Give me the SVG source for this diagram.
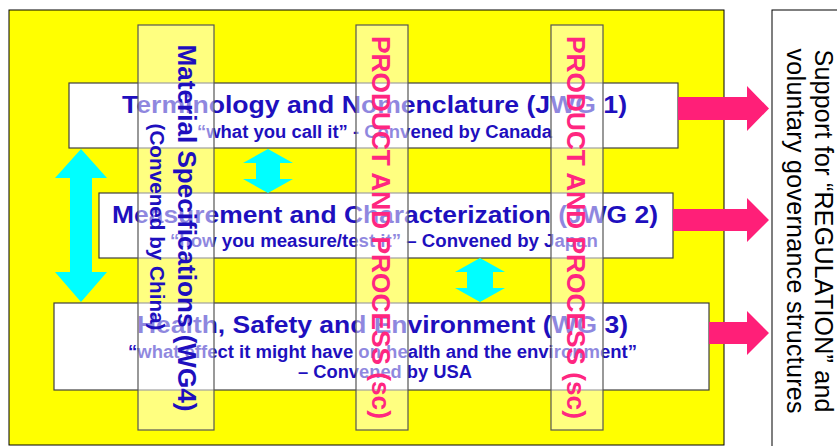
<svg xmlns="http://www.w3.org/2000/svg" width="837" height="446" viewBox="0 0 837 446">
<style>
.bg{fill:#ffff00;stroke:#000;stroke-width:1}
.box{fill:#fff;stroke:#404040;stroke-width:1.2}
.col{fill:#fff;fill-opacity:0.5;stroke:#555;stroke-width:1.2}
.t{font-family:"Liberation Sans",Arial,sans-serif;font-weight:bold;fill:#1e0fbe;text-anchor:middle}
.tt{font-size:24px}
.ts{font-size:18px}
.pk{font-family:"Liberation Sans",Arial,sans-serif;font-weight:bold;fill:#ff2680;font-size:25px;text-anchor:middle}
.rt{font-family:"Liberation Sans",Arial,sans-serif;fill:#000;font-size:25px;text-anchor:middle}
.cy{fill:#00ffff}
.pa{fill:#ff1f78}
</style>
<rect id="background" class="bg" x="9" y="10" width="715" height="435"/>
<g id="support">
<rect x="772" y="10" width="70" height="440" fill="#fff" stroke="#000" stroke-width="1"/>
<text class="rt" transform="translate(815,231) rotate(90)" textLength="363">Support for “REGULATION” and</text>
<text class="rt" transform="translate(787,231) rotate(90)" textLength="365">voluntary governance structures</text>
</g>
<g id="jwg1">
<rect class="box" x="69" y="83" width="609" height="65"/>
<text class="t tt" x="374.5" y="113" textLength="505" lengthAdjust="spacingAndGlyphs">Terminology and Nomenclature (JWG 1)</text>
<text class="t ts" x="374.5" y="138" textLength="355" lengthAdjust="spacingAndGlyphs">“what you call it” - Convened by Canada</text>
</g>
<g id="jwg2">
<rect class="box" x="99" y="193" width="574" height="65"/>
<text class="t tt" x="385" y="223" textLength="546" lengthAdjust="spacingAndGlyphs">Measurement and Characterization (JWG 2)</text>
<text class="t ts" x="384" y="247" textLength="428" lengthAdjust="spacingAndGlyphs">“how you measure/test it” – Convened by Japan</text>
</g>
<g id="wg3">
<rect class="box" x="54" y="303" width="655" height="87"/>
<text class="t tt" x="382.5" y="333" textLength="491" lengthAdjust="spacingAndGlyphs">Health, Safety and Environment (WG 3)</text>
<text class="t ts" x="382.5" y="358" textLength="509" lengthAdjust="spacingAndGlyphs">“what effect it might have on health and the environment”</text>
<text class="t ts" x="385" y="378" textLength="174" lengthAdjust="spacingAndGlyphs">– Convened by USA</text>
</g>
<g id="connectors">
<polygon class="cy" points="81,149 107,178 92,178 92,272 107,272 81,302 55,272 70,272 70,178 55,178"/>
<polygon class="cy" points="268,149 293,163 280,163 280,179 293,179 268,193 243,179 256,179 256,163 243,163"/>
<polygon class="cy" points="480,258 505,272 493,272 493,288 505,288 480,302 455,288 467,288 467,272 455,272"/>
<polygon class="pa" points="678,97 747,97 747,86 769,108.5 747,131 747,120 678,120"/>
<polygon class="pa" points="673,209 747,209 747,198 769,220 747,242 747,231 673,231"/>
<polygon class="pa" points="709,322 747,322 747,311 769,333 747,355 747,344 709,344"/>
</g>
<g id="wg4">
<rect class="col" x="138" y="25" width="76" height="405"/>
<text class="t" font-size="26" transform="translate(178,228) rotate(90)" textLength="367" lengthAdjust="spacingAndGlyphs">Material Specifications (WG4)</text>
<text class="t" font-size="20" transform="translate(150,227) rotate(90)" textLength="207" lengthAdjust="spacingAndGlyphs">(Convened by China)</text>
</g>
<g id="sc1">
<rect class="col" x="356" y="25" width="52" height="405"/>
<text class="pk" transform="translate(372,227.5) rotate(90)" textLength="383" lengthAdjust="spacingAndGlyphs">PRODUCT AND PROCESS (sc)</text>
</g>
<g id="sc2">
<rect class="col" x="551" y="25" width="52" height="405"/>
<text class="pk" transform="translate(567,227.5) rotate(90)" textLength="383" lengthAdjust="spacingAndGlyphs">PRODUCT AND PROCESS (sc)</text>
</g>
</svg>
